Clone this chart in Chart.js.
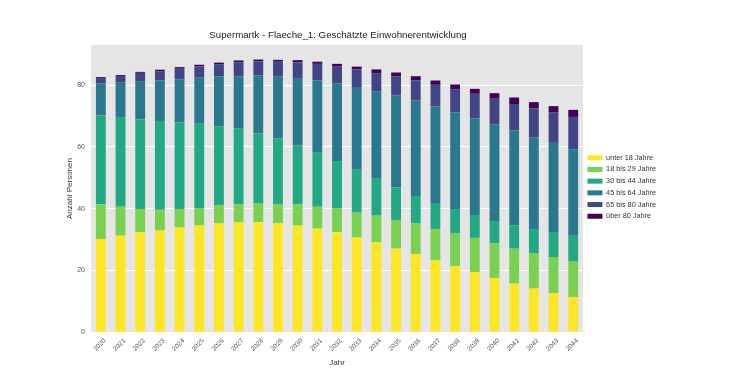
<!DOCTYPE html>
<html lang="de">
<head>
<meta charset="UTF-8">
<title>Supermartk - Flaeche_1</title>
<script src="https://cdn.jsdelivr.net/npm/chart.js"></script>
<style>
    html, body { margin: 0; padding: 0; background: #fff; }
    .wrap { width: 730px; height: 374px; position: relative; }
</style>
</head>
<body>
<div class="wrap"><canvas id="chart"></canvas></div>
<script>
    const years = ['2020', '2021', '2022', '2023', '2024', '2025', '2026', '2027', '2028', '2029', '2030', '2031', '2032',
                   '2033', '2034', '2035', '2036', '2037', '2038', '2039', '2040', '2041', '2042', '2043', '2044'];

    const unter18 = [30.1, 31.2, 32.3, 32.9, 33.9, 34.5, 35.2, 35.5, 35.6, 35.2, 34.5, 33.5, 32.3,
                     30.6, 29.0, 27.0, 25.3, 23.2, 21.3, 19.4, 17.4, 15.7, 14.1, 12.5, 11.3];
    const von18bis29 = [11.3, 9.4, 7.6, 6.7, 6.0, 5.7, 5.8, 5.9, 6.0, 6.3, 6.9, 7.1, 7.7,
                        8.1, 8.7, 9.3, 9.9, 10.2, 10.6, 11.1, 11.4, 11.3, 11.5, 11.8, 11.5];
    const von30bis44 = [28.8, 29.1, 29.0, 28.8, 28.1, 27.3, 25.7, 24.5, 22.8, 21.3, 19.1, 17.5, 15.4,
                        13.9, 12.0, 10.6, 8.9, 8.4, 7.7, 7.2, 7.2, 7.6, 7.8, 8.1, 8.4];
    const von45bis64 = [10.4, 11.3, 12.4, 13.1, 13.9, 14.9, 16.2, 17.0, 18.8, 20.1, 21.8, 23.4, 25.2,
                        26.8, 28.3, 29.7, 31.0, 31.4, 31.6, 31.5, 31.3, 30.7, 29.7, 28.9, 28.0];
    const von65bis80 = [1.7, 2.0, 2.7, 3.0, 3.7, 3.7, 3.9, 4.5, 4.5, 4.7, 5.1, 5.4, 5.4,
                        5.7, 5.9, 6.3, 6.5, 6.9, 7.5, 8.0, 8.3, 8.6, 9.4, 9.8, 10.5];
    const ueber80 = [0.3, 0.3, 0.3, 0.5, 0.3, 0.5, 0.5, 0.6, 0.6, 0.6, 0.7, 0.7, 0.9,
                     0.9, 1.2, 1.2, 1.3, 1.4, 1.5, 1.6, 1.8, 2.1, 2.0, 2.1, 2.3];

    const yTicks = [0, 20, 40, 60, 80];

    const groupNames = ['unter 18 Jahre', '18 bis 29 Jahre', '30 bis 44 Jahre', '45 bis 64 Jahre', '65 bis 80 Jahre', 'über 80 Jahre'];
    const groupValues = [unter18, von18bis29, von30bis44, von45bis64, von65bis80, ueber80];
    const colors = ['#fde725', '#7ad151', '#22a884', '#2a788e', '#414487', '#440154'];

    const fontFamily = '"Liberation Sans", Arial, sans-serif';

    // grey plot background like the matplotlib style
    const plotBackground = {
        id: 'plotBackground',
        beforeDraw(chart) {
            const { ctx, chartArea } = chart;
            ctx.save();
            ctx.fillStyle = '#e5e5e5';
            ctx.fillRect(chartArea.left, chartArea.top, chartArea.right - chartArea.left, chartArea.bottom - chartArea.top);
            ctx.restore();
        }
    };

    const datasets = groupNames.map((name, i) => ({
        label: name,
        data: groupValues[i],
        backgroundColor: colors[i],
        borderWidth: 0,
        barPercentage: 0.5,
        categoryPercentage: 1.0
    }));

    new Chart(document.getElementById('chart'), {
        type: 'bar',
        data: { labels: years, datasets: datasets },
        plugins: [plotBackground],
        options: {
            responsive: true,
            maintainAspectRatio: false,
            animation: false,
            layout: { padding: { left: 10, right: 64, top: 0, bottom: 0 } },
            plugins: {
                title: {
                    display: true,
                    text: 'Supermartk - Flaeche_1: Geschätzte Einwohnerentwicklung',
                    color: '#222',
                    font: { family: fontFamily, size: 9.7, weight: 'normal' },
                    padding: { top: 30, bottom: 3.4 }
                },
                legend: {
                    position: 'right',
                    labels: {
                        color: '#333',
                        boxWidth: 15,
                        boxHeight: 5,
                        padding: 4.4,
                        font: { family: fontFamily, size: 7.3 }
                    }
                },
                tooltip: { enabled: false }
            },
            scales: {
                x: {
                    stacked: true,
                    grid: { display: false },
                    border: { display: false },
                    ticks: {
                        color: '#555',
                        font: { family: fontFamily, size: 6.5 },
                        minRotation: 45,
                        maxRotation: 45,
                        padding: -3,
                        labelOffset: 4
                    },
                    title: {
                        display: true,
                        text: 'Jahr',
                        color: '#333',
                        font: { family: fontFamily, size: 8 },
                        padding: { top: 0, bottom: 6 }
                    },
                    afterFit(scale) { scale.height = 42; }
                },
                y: {
                    stacked: true,
                    min: 0,
                    max: 93,
                    grid: { color: '#ffffff', lineWidth: 1, drawTicks: false },
                    border: { display: false },
                    ticks: {
                        color: '#555',
                        font: { family: fontFamily, size: 7 },
                        padding: 6
                    },
                    afterBuildTicks(scale) { scale.ticks = yTicks.map(v => ({ value: v })); },
                    title: {
                        display: true,
                        text: 'Anzahl Personen',
                        color: '#333',
                        font: { family: fontFamily, size: 8 },
                        padding: { top: 55, bottom: 0 }
                    },
                    afterFit(scale) { scale.width = 81; }
                }
            }
        }
    });
</script>
</body>
</html>
